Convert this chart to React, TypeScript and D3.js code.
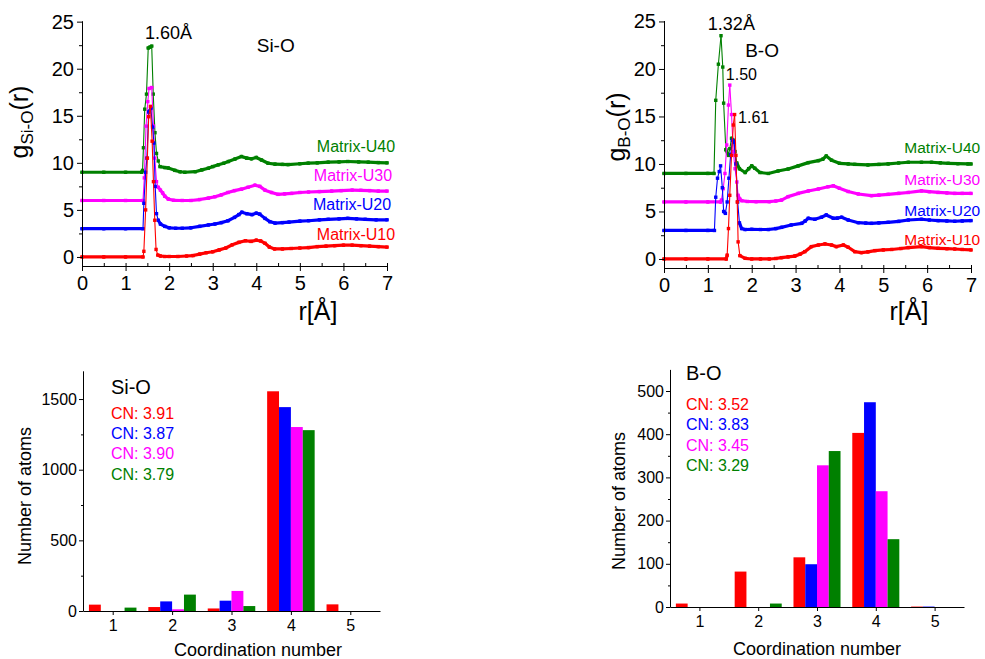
import { useEffect, useRef } from 'react';
import * as d3 from 'd3';

type Pt = [number, number];

const FONT = 'Arial, "Liberation Sans", Helvetica, sans-serif';

const seriesNames = ['Matrix-U10', 'Matrix-U20', 'Matrix-U30', 'Matrix-U40'];
const seriesColors = ['#ff0000', '#0000ff', '#ff00ff', '#008000'];
// vertical shift applied to each g(r) curve
const rdfOffsets = [0, 3, 6, 9];

const rdfXTicks = [0, 1, 2, 3, 4, 5, 6, 7];
const rdfXMinor = [0.5, 1.5, 2.5, 3.5, 4.5, 5.5, 6.5];
const rdfYTicks = [0, 5, 10, 15, 20, 25];
const rdfYMinor = [2.5, 7.5, 12.5, 17.5, 22.5];

// Si-O pair distribution (r [Å], g)
const siO_U10: Pt[] = [[0,0],[0.5,0],[1.0,0],[1.40,0],[1.42,0.6],[1.46,5.0],[1.50,10.5],[1.53,14.9],[1.57,16.0],[1.61,12.3],[1.64,8.0],[1.67,3.9],[1.70,0.8],[1.74,0.2],[1.8,0.1],[1.9,0.05],[2.0,0.05],[2.2,0.05],[2.4,0.1],[2.55,0.15],[2.7,0.3],[2.85,0.45],[3.0,0.55],[3.15,0.75],[3.3,0.95],[3.45,1.3],[3.6,1.55],[3.75,1.72],[3.88,1.65],[4.0,1.78],[4.1,1.7],[4.2,1.45],[4.3,1.05],[4.42,0.85],[4.6,0.85],[4.8,0.9],[5.0,0.95],[5.2,1.0],[5.4,1.1],[5.6,1.15],[5.8,1.2],[6.0,1.25],[6.2,1.25],[6.4,1.2],[6.6,1.15],[6.8,1.1],[7.0,1.05]];
const siO_U20: Pt[] = [[0,0],[0.5,0],[1.0,0],[1.40,0],[1.42,2.7],[1.46,6.0],[1.49,7.5],[1.53,12.4],[1.58,12.8],[1.62,10.8],[1.65,9.1],[1.68,4.5],[1.71,1.6],[1.75,0.9],[1.8,0.5],[1.9,0.25],[2.0,0.1],[2.15,0.05],[2.3,0.05],[2.5,0.1],[2.7,0.25],[2.9,0.4],[3.05,0.5],[3.2,0.65],[3.35,0.85],[3.5,1.2],[3.6,1.5],[3.67,1.75],[3.78,1.6],[3.9,1.5],[4.0,1.65],[4.08,1.55],[4.2,1.1],[4.31,0.75],[4.43,0.6],[4.6,0.65],[4.75,0.7],[5.0,0.8],[5.2,0.85],[5.45,0.95],[5.65,1.0],[5.9,1.05],[6.1,1.1],[6.3,1.05],[6.5,1.0],[6.75,0.95],[7.0,0.95]];
const siO_U30: Pt[] = [[0,0],[0.5,0],[1.0,0],[1.40,0],[1.43,2.4],[1.47,7.9],[1.51,10.5],[1.54,11.9],[1.6,12.0],[1.64,7.9],[1.67,4.5],[1.71,2.0],[1.75,1.4],[1.8,1.1],[1.85,0.8],[1.9,0.45],[1.98,0.15],[2.1,0.02],[2.3,0],[2.5,0],[2.7,0.1],[2.9,0.25],[3.05,0.4],[3.2,0.6],[3.35,0.85],[3.5,1.05],[3.66,1.2],[3.81,1.4],[3.97,1.62],[4.08,1.5],[4.2,1.1],[4.35,0.85],[4.5,0.65],[4.65,0.7],[4.81,0.75],[5.0,0.85],[5.2,0.9],[5.45,0.95],[5.73,1.0],[5.95,1.05],[6.2,1.1],[6.4,1.08],[6.6,1.05],[6.8,1.0],[7.0,1.0]];
const siO_U40: Pt[] = [[0,0],[0.5,0],[1.0,0],[1.37,0],[1.39,0.2],[1.41,2.6],[1.44,6.7],[1.48,8.3],[1.52,13.2],[1.56,13.3],[1.60,13.4],[1.635,8.3],[1.675,4.2],[1.71,2.0],[1.75,1.2],[1.79,0.6],[1.9,0.5],[1.98,0.45],[2.13,0.2],[2.25,0.05],[2.36,0],[2.6,0.06],[2.75,0.25],[2.9,0.43],[3.0,0.6],[3.13,0.79],[3.25,0.95],[3.36,1.14],[3.51,1.4],[3.66,1.67],[3.78,1.5],[3.89,1.43],[4.0,1.57],[4.12,1.3],[4.27,0.96],[4.43,0.86],[4.6,0.83],[4.73,0.82],[5.0,0.9],[5.19,0.96],[5.4,1.0],[5.65,1.07],[5.9,1.1],[6.1,1.14],[6.35,1.1],[6.57,1.07],[6.8,1.03],[7.0,1.0]];

// B-O pair distribution
const bO_U10: Pt[] = [[0,0],[0.5,0],[1.0,0],[1.42,0],[1.44,0.4],[1.47,3.2],[1.5,6.7],[1.54,10.9],[1.58,14.1],[1.61,15.2],[1.64,10.9],[1.67,6.0],[1.69,1.8],[1.73,0.35],[1.85,0.07],[2.0,0],[2.2,0],[2.4,0],[2.55,0.05],[2.68,0.14],[2.83,0.22],[2.98,0.3],[3.1,0.5],[3.21,0.77],[3.36,1.3],[3.52,1.47],[3.67,1.58],[3.82,1.47],[3.93,1.3],[4.09,1.47],[4.2,1.23],[4.35,0.77],[4.5,0.67],[4.65,0.75],[4.81,0.88],[5.0,0.95],[5.19,1.0],[5.4,1.1],[5.57,1.2],[5.87,1.3],[6.05,1.2],[6.25,1.12],[6.45,1.08],[6.63,1.05],[6.8,1.0],[7.0,0.95]];
const bO_U20: Pt[] = [[0,0],[0.5,0],[1.0,0],[1.15,0],[1.18,3.5],[1.22,5.5],[1.26,6.2],[1.29,6.8],[1.33,4.5],[1.36,2.0],[1.40,1.8],[1.44,3.0],[1.48,5.5],[1.52,8.0],[1.56,9.5],[1.60,9.3],[1.64,7.0],[1.68,3.0],[1.72,0.8],[1.77,0.2],[1.85,0.1],[2.0,0.12],[2.2,0.1],[2.38,0.1],[2.55,0.2],[2.68,0.33],[2.9,0.58],[3.14,0.75],[3.22,1.0],[3.29,1.28],[3.44,1.18],[3.59,1.39],[3.7,1.63],[3.86,1.28],[3.95,1.3],[4.05,1.39],[4.2,1.1],[4.43,0.82],[4.6,0.78],[4.73,0.75],[4.9,0.8],[5.11,0.86],[5.35,0.95],[5.57,1.1],[5.87,1.18],[6.05,1.1],[6.25,1.04],[6.45,1.0],[6.63,0.97],[6.8,1.0],[7.0,1.04]];
const bO_U30: Pt[] = [[0,0],[0.5,0],[1.0,0],[1.29,0],[1.31,0.2],[1.35,1.4],[1.39,3.0],[1.43,6.0],[1.47,10.2],[1.5,12.3],[1.54,9.2],[1.58,5.3],[1.62,3.5],[1.66,2.1],[1.69,0.7],[1.73,0.3],[1.77,0.14],[1.9,0.05],[2.1,0.03],[2.4,0.03],[2.55,0.1],[2.68,0.2],[2.83,0.56],[3.06,0.9],[3.29,1.16],[3.52,1.37],[3.74,1.6],[3.86,1.7],[4.0,1.44],[4.2,1.1],[4.43,0.84],[4.73,0.67],[4.9,0.72],[5.11,0.8],[5.35,0.9],[5.57,1.0],[5.87,1.16],[6.05,1.08],[6.25,1.0],[6.45,0.95],[6.63,0.9],[6.8,0.9],[7.0,0.9]];
const bO_U40: Pt[] = [[0,0],[0.5,0],[1.0,0],[1.14,0],[1.18,7.7],[1.24,11.5],[1.30,14.5],[1.34,11.2],[1.36,7.4],[1.41,2.5],[1.47,1.9],[1.50,2.6],[1.54,3.7],[1.58,3.5],[1.62,2.3],[1.66,1.1],[1.72,0.5],[1.85,0.1],[1.93,0.5],[2.0,0.8],[2.07,0.55],[2.19,0.1],[2.38,0],[2.6,0.26],[2.83,0.47],[3.06,0.8],[3.29,1.14],[3.52,1.35],[3.62,1.5],[3.7,1.84],[3.82,1.4],[4.0,1.07],[4.2,1.0],[4.35,0.96],[4.65,0.9],[4.9,0.95],[5.11,1.0],[5.35,1.1],[5.57,1.18],[5.87,1.18],[6.1,1.18],[6.3,1.12],[6.48,1.07],[6.7,1.03],[6.93,1.0],[7.0,1.0]];

// label anchors in data coordinates (r, shifted g), order U10..U40
const siOLabelPos: Pt[] = [[5.39, 1.8], [5.30, 5.0], [5.32, 8.1], [5.39, 11.2]];
const bOLabelPos: Pt[] = [[5.48, 1.5], [5.48, 4.5], [5.48, 7.8], [5.48, 11.2]];

const siONotes = [
  { text: '1.60Å', r: 1.445, g: 23.2, size: 18 },
  { text: 'Si-O', r: 4.01, g: 21.8, size: 19 },
];
const bONotes = [
  { text: '1.32Å', r: 1.0, g: 24.1, size: 18 },
  { text: '1.50', r: 1.41, g: 18.8, size: 16 },
  { text: '1.61', r: 1.69, g: 14.3, size: 16 },
  { text: 'B-O', r: 1.85, g: 21.3, size: 19 },
];

// coordination number histograms
const cnCategories = [1, 2, 3, 4, 5];
const siOCounts = [
  [45, 28, 18, 1555, 47],
  [0, 68, 73, 1443, 0],
  [0, 12, 142, 1302, 0],
  [24, 116, 35, 1280, 0],
];
const bOCounts = [
  [8, 82, 115, 403, 1],
  [0, 0, 99, 474, 1],
  [0, 0, 328, 268, 0],
  [0, 8, 361, 157, 0],
];
const siOCN = ['CN: 3.91', 'CN: 3.87', 'CN: 3.90', 'CN: 3.79'];
const bOCN = ['CN: 3.52', 'CN: 3.83', 'CN: 3.45', 'CN: 3.29'];
const siOYTicks = [0, 500, 1000, 1500];
const siOYMinor = [250, 750, 1250];
const bOYTicks = [0, 100, 200, 300, 400, 500];
const bOYMinor = [50, 150, 250, 350, 450];

interface Frame { x0: number; x1: number; top: number; bottom: number; }

function styleAxis(g: d3.Selection<SVGGElement, unknown, null, undefined>, size: number) {
  g.attr('font-size', size).attr('font-family', FONT);
  g.selectAll('text').attr('fill', '#000');
  g.selectAll('line').attr('stroke', '#000');
  g.selectAll('path').attr('stroke', '#000');
}

function RdfPanel({ frame, yDomain, data, labelPos, labelSize, notes, pair, yLabelX, yLabelY, xLabelX }: {
  frame: Frame; yDomain: [number, number]; data: Pt[][]; labelPos: Pt[]; labelSize: number;
  notes: { text: string; r: number; g: number; size: number }[];
  pair: string; yLabelX: number; yLabelY: number; xLabelX: number;
}) {
  const axRef = useRef<SVGGElement>(null);
  const x = d3.scaleLinear().domain([0, 7]).range([frame.x0, frame.x1]);
  const y = d3.scaleLinear().domain(yDomain).range([frame.bottom, frame.top]);

  useEffect(() => {
    const g = d3.select(axRef.current!);
    g.selectAll('*').remove();
    const xa = g.append('g').attr('transform', `translate(0,${frame.bottom})`)
      .call(d3.axisBottom(x).tickValues(rdfXTicks).tickSize(5).tickSizeOuter(0).tickPadding(5).tickFormat(d3.format('d')));
    styleAxis(xa, 20);
    const xin = g.append('g').attr('transform', `translate(0,${frame.bottom})`)
      .call(d3.axisTop(x).tickValues([...rdfXTicks, ...rdfXMinor]).tickSize(3).tickFormat(() => ''));
    xin.select('.domain').remove();
    styleAxis(xin, 20);
    const ya = g.append('g').attr('transform', `translate(${frame.x0},0)`)
      .call(d3.axisLeft(y).tickValues(rdfYTicks).tickSize(5).tickSizeOuter(0).tickPadding(3).tickFormat(d3.format('d')));
    styleAxis(ya, 20);
    const ym = g.append('g').attr('transform', `translate(${frame.x0},0)`)
      .call(d3.axisLeft(y).tickValues(rdfYMinor).tickSize(3).tickFormat(() => ''));
    ym.select('.domain').remove();
    styleAxis(ym, 20);
  });

  const order = [3, 2, 1, 0];
  return (
    <g>
      {order.map((i) => {
        const pts = data[i].map(([r, v]) => [x(r), y(v + rdfOffsets[i])] as Pt);
        const col = seriesColors[i];
        return (
          <g key={i}>
            {pts.slice(1).map((p, k) => {
              const q = pts[k];
              const dx = Math.abs(p[0] - q[0]);
              const dy = Math.abs(p[1] - q[1]);
              const steep = dy > 3 * dx && dy > 4;
              return (
                <line key={k} x1={q[0]} y1={q[1]} x2={p[0]} y2={p[1]} stroke={col}
                  strokeWidth={steep ? 1.1 : 3.2} strokeLinecap="round" />
              );
            })}
            {pts.map((p, k) => (
              <rect key={'m' + k} x={p[0] - 1.7} y={p[1] - 1.7} width={3.4} height={3.4} fill={col} />
            ))}
          </g>
        );
      })}
      {labelPos.map(([r, v], i) => (
        <text key={'l' + i} x={x(r)} y={y(v)} fill={seriesColors[i]} fontSize={labelSize} fontFamily={FONT}>
          {seriesNames[i]}
        </text>
      ))}
      {notes.map((n) => (
        <text key={n.text} x={x(n.r)} y={y(n.g)} fontSize={n.size} fontFamily={FONT} fill="#000">{n.text}</text>
      ))}
      <g ref={axRef} />
      <text transform={`translate(${yLabelX},${yLabelY}) rotate(-90)`} textAnchor="middle" fontFamily={FONT} fontSize={25} fill="#000">
        <tspan>g</tspan>
        <tspan fontSize={17} dy={5}>{pair}</tspan>
        <tspan dy={-5}>(r)</tspan>
      </text>
      <text x={xLabelX} y={320} textAnchor="middle" fontFamily={FONT} fontSize={25} fill="#000">r[Å]</text>
    </g>
  );
}

function CnPanel({ frame, yMax, counts, yTicks, yMinor, pair, cn, titlePos, cnPos, yLabelX, yLabelY, xLabelX, xLabelY }: {
  frame: Frame; yMax: number; counts: number[][]; yTicks: number[]; yMinor: number[];
  pair: string; cn: string[]; titlePos: Pt; cnPos: Pt; yLabelX: number; yLabelY: number; xLabelX: number; xLabelY: number;
}) {
  const axRef = useRef<SVGGElement>(null);
  const x = d3.scaleLinear().domain([0.5, 5.5]).range([frame.x0, frame.x1]);
  const y = d3.scaleLinear().domain([0, yMax]).range([frame.bottom, frame.top]);
  const barW = 0.2;

  useEffect(() => {
    const g = d3.select(axRef.current!);
    g.selectAll('*').remove();
    const xa = g.append('g').attr('transform', `translate(0,${frame.bottom})`)
      .call(d3.axisBottom(x).tickValues(cnCategories).tickSize(4).tickSizeOuter(0).tickPadding(5).tickFormat(d3.format('d')));
    styleAxis(xa, 16);
    const ya = g.append('g').attr('transform', `translate(${frame.x0},0)`)
      .call(d3.axisLeft(y).tickValues(yTicks).tickSize(4).tickSizeOuter(0).tickPadding(2).tickFormat(d3.format('d')));
    styleAxis(ya, 16);
    const ym = g.append('g').attr('transform', `translate(${frame.x0},0)`)
      .call(d3.axisLeft(y).tickValues(yMinor).tickSize(2).tickFormat(() => ''));
    ym.select('.domain').remove();
    styleAxis(ym, 16);
  });

  return (
    <g>
      {counts.map((row, i) =>
        row.map((v, c) => {
          const left = cnCategories[c] - 0.4 + i * barW;
          return (
            <rect key={`${i}-${c}`} x={x(left)} y={y(v)} width={x(left + barW) - x(left)}
              height={y(0) - y(v)} fill={seriesColors[i]} />
          );
        })
      )}
      <g ref={axRef} />
      <text x={x(titlePos[0])} y={y(titlePos[1])} fontFamily={FONT} fontSize={20} fill="#000">{pair}</text>
      {cn.map((t, i) => (
        <text key={t} x={x(cnPos[0])} y={y(cnPos[1]) + i * 20.3} fontFamily={FONT} fontSize={16} fill={seriesColors[i]}>{t}</text>
      ))}
      <text transform={`translate(${yLabelX},${yLabelY}) rotate(-90)`} textAnchor="middle" fontFamily={FONT} fontSize={18} fill="#000">
        Number of atoms
      </text>
      <text x={xLabelX} y={xLabelY} textAnchor="middle" fontFamily={FONT} fontSize={18} fill="#000">
        Coordination number
      </text>
    </g>
  );
}

export default function App() {
  return (
    <svg width={985} height={659} style={{ position: 'absolute', left: 0, top: 0, background: '#fff' }}>
      <rect width={985} height={659} fill="#fff" />
      <RdfPanel frame={{ x0: 82, x1: 387, top: 20.7, bottom: 266 }} yDomain={[-0.96, 25.1]}
        data={[siO_U10, siO_U20, siO_U30, siO_U40]} labelPos={siOLabelPos} labelSize={16} notes={siONotes}
        pair="Si-O" yLabelX={28} yLabelY={122} xLabelX={318} />
      <RdfPanel frame={{ x0: 664, x1: 971, top: 20.5, bottom: 268 }} yDomain={[-0.95, 25.1]}
        data={[bO_U10, bO_U20, bO_U30, bO_U40]} labelPos={bOLabelPos} labelSize={15.5} notes={bONotes}
        pair="B-O" yLabelX={625} yLabelY={127} xLabelX={909} />
      <CnPanel frame={{ x0: 83, x1: 380, top: 370.8, bottom: 611 }} yMax={1700} counts={siOCounts}
        yTicks={siOYTicks} yMinor={siOYMinor} pair="Si-O" cn={siOCN} titlePos={[0.97, 1537]} cnPos={[0.97, 1361]}
        yLabelX={31} yLabelY={496} xLabelX={258} xLabelY={656} />
      <CnPanel frame={{ x0: 670, x1: 964, top: 369.4, bottom: 607 }} yMax={550} counts={bOCounts}
        yTicks={bOYTicks} yMinor={bOYMinor} pair="B-O" cn={bOCN} titlePos={[0.77, 525]} cnPos={[0.77, 456]}
        yLabelX={625} yLabelY={501} xLabelX={817} xLabelY={655} />
    </svg>
  );
}
